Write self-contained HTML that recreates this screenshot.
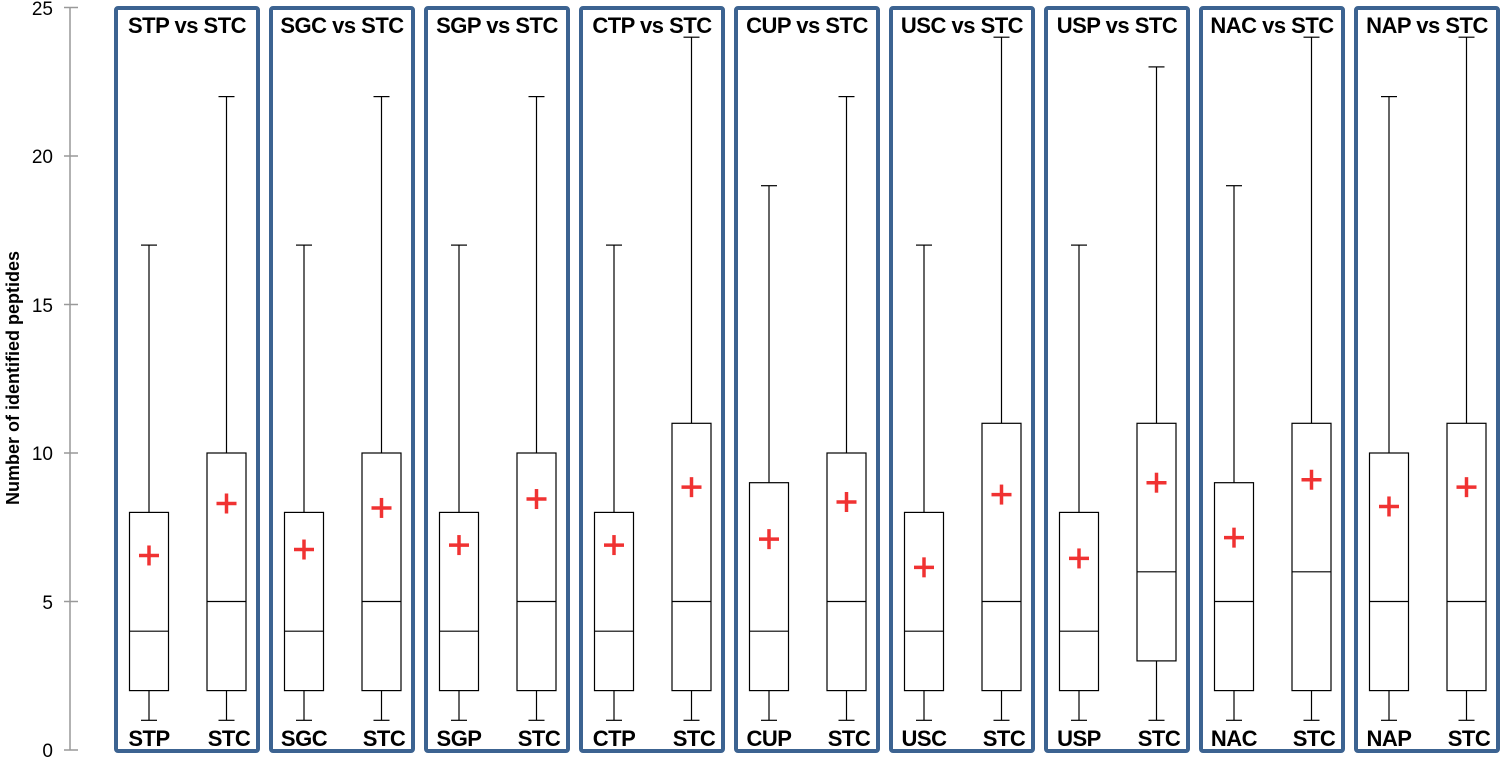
<!DOCTYPE html>
<html><head><meta charset="utf-8"><style>
html,body{margin:0;padding:0;background:#fff}
svg{display:block}
text{font-family:"Liberation Sans",sans-serif}
</style></head><body>
<svg id="s" width="1502" height="757" viewBox="0 0 1502 757" xmlns="http://www.w3.org/2000/svg">
<g id="g"></g>
<g font-size="19" fill="#000" text-anchor="end">
<text x="53" y="757">0</text>
<text x="53" y="609">5</text>
<text x="53" y="460">10</text>
<text x="53" y="312">15</text>
<text x="53" y="163">20</text>
<text x="53" y="15">25</text>
</g>
<text transform="translate(19,378) rotate(-90)" text-anchor="middle" font-size="18" font-weight="bold">Number of identified peptides</text>
<g font-size="22" font-weight="bold" text-anchor="middle" letter-spacing="-0.5">
<text x="187" y="33">STP vs STC</text>
<text x="342" y="33">SGC vs STC</text>
<text x="497" y="33">SGP vs STC</text>
<text x="652" y="33">CTP vs STC</text>
<text x="807" y="33">CUP vs STC</text>
<text x="962" y="33">USC vs STC</text>
<text x="1117" y="33">USP vs STC</text>
<text x="1272" y="33">NAC vs STC</text>
<text x="1427" y="33">NAP vs STC</text>
<text x="149" y="746">STP</text><text x="229" y="746">STC</text>
<text x="304" y="746">SGC</text><text x="384" y="746">STC</text>
<text x="459" y="746">SGP</text><text x="539" y="746">STC</text>
<text x="614" y="746">CTP</text><text x="694" y="746">STC</text>
<text x="769" y="746">CUP</text><text x="849" y="746">STC</text>
<text x="924" y="746">USC</text><text x="1004" y="746">STC</text>
<text x="1079" y="746">USP</text><text x="1159" y="746">STC</text>
<text x="1234" y="746">NAC</text><text x="1314" y="746">STC</text>
<text x="1389" y="746">NAP</text><text x="1469" y="746">STC</text>
</g>
</svg>
<script>
var g=document.getElementById('g'),h='';
function Y(v){return 750-v*29.7;}
h+='<line x1="70" y1="7" x2="70" y2="750" stroke="#999" stroke-width="1.5"/>';
for(var t=0;t<=25;t+=5)h+='<line x1="64" x2="78" y1="'+Y(t)+'" y2="'+Y(t)+'" stroke="#999" stroke-width="1.5"/>';
var d=[[[2,4,8,17,6.55],[2,5,10,22,8.3]],[[2,4,8,17,6.75],[2,5,10,22,8.15]],[[2,4,8,17,6.9],[2,5,10,22,8.45]],[[2,4,8,17,6.9],[2,5,11,24,8.85]],[[2,4,9,19,7.1],[2,5,10,22,8.35]],[[2,4,8,17,6.15],[2,5,11,24,8.6]],[[2,4,8,17,6.45],[3,6,11,23,9.0]],[[2,5,9,19,7.15],[2,6,11,24,9.1]],[[2,5,10,22,8.2],[2,5,11,24,8.85]]];
for(var i=0;i<9;i++){
 var px=114+155*i;
 h+='<rect x="'+(px+2)+'" y="8" width="142" height="743" fill="none" stroke="#3c6391" stroke-width="4" rx="2"/>';
 for(var j=0;j<2;j++){
  var c=px+35+j*77.5,b=d[i][j];
  var s='stroke="#000" stroke-width="1.2" fill="none"';
  h+='<line x1="'+c+'" x2="'+c+'" y1="'+Y(b[3])+'" y2="'+Y(b[2])+'" '+s+'/>';
  h+='<line x1="'+c+'" x2="'+c+'" y1="'+Y(b[0])+'" y2="'+Y(1)+'" '+s+'/>';
  h+='<line x1="'+(c-8)+'" x2="'+(c+8)+'" y1="'+Y(b[3])+'" y2="'+Y(b[3])+'" '+s+'/>';
  h+='<line x1="'+(c-8)+'" x2="'+(c+8)+'" y1="'+Y(1)+'" y2="'+Y(1)+'" '+s+'/>';
  h+='<rect x="'+(c-19.5)+'" y="'+Y(b[2])+'" width="39" height="'+(Y(b[0])-Y(b[2]))+'" '+s+'/>';
  h+='<line x1="'+(c-19.5)+'" x2="'+(c+19.5)+'" y1="'+Y(b[1])+'" y2="'+Y(b[1])+'" '+s+'/>';
  var m=Y(b[4]);
  h+='<line x1="'+(c-10)+'" x2="'+(c+10)+'" y1="'+m+'" y2="'+m+'" stroke="#f03232" stroke-width="3.5"/>';
  h+='<line x1="'+c+'" x2="'+c+'" y1="'+(m-10)+'" y2="'+(m+10)+'" stroke="#f03232" stroke-width="3.5"/>';
 }
}
g.innerHTML=h;
</script>
</body></html>
